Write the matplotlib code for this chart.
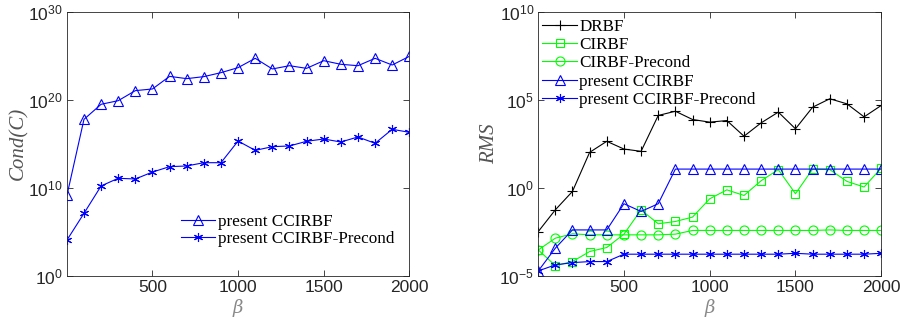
import matplotlib
matplotlib.use("Agg")
import matplotlib.pyplot as plt
import numpy as np
from matplotlib.ticker import FixedLocator, FuncFormatter, NullLocator

plt.rcParams["mathtext.fontset"] = "dejavuserif"

beta = [1, 100, 200, 300, 400, 500, 600, 700, 800, 900, 1000,
        1100, 1200, 1300, 1400, 1500, 1600, 1700, 1800, 1900, 2000]

# Left panel: condition number exponents (log10)
cond_ccirbf_exp = [9.19, 17.78, 19.49, 19.9, 21.04, 21.23, 22.66, 22.4, 22.63, 23.08, 23.65,
                   24.71, 23.5, 23.87, 23.57, 24.44, 24.03, 23.87, 24.71, 23.95, 24.93]
cond_precond_exp = [4.09, 7.11, 10.22, 11.09, 11.01, 11.8, 12.41, 12.49, 12.86, 12.86, 15.32,
                    14.26, 14.68, 14.76, 15.29, 15.55, 15.21, 15.78, 15.06, 16.65, 16.31]

# Right panel: RMS exponents (log10)
rms_drbf_exp = [-2.47, -1.24, -0.19, 2.03, 2.66, 2.22, 2.09, 4.13, 4.37, 3.9, 3.75,
                3.84, 2.95, 3.71, 4.32, 3.37, 4.6, 5.08, 4.79, 4.05, 4.7]
rms_cirbf_exp = [-3.52, -4.41, -4.18, -3.61, -3.38, -2.62, -1.24, -2.03, -1.9, -1.65, -0.61,
                 -0.1, -0.42, 0.42, 1.05, -0.32, 1.08, 1.05, 0.38, 0.06, 1.14]
rms_cirbf_pre_exp = [-3.52, -2.85, -2.6, -2.66, -2.66, -2.66, -2.66, -2.66, -2.62, -2.41, -2.41,
                     -2.41, -2.41, -2.41, -2.41, -2.41, -2.41, -2.38, -2.41, -2.41, -2.41]
rms_ccirbf_exp = [-4.71, -3.42, -2.38, -2.38, -2.38, -0.89, -1.33, -0.89, 1.08, 1.08, 1.08,
                  1.08, 1.08, 1.08, 1.08, 1.08, 1.08, 1.08, 1.08, 1.08, 1.08]
rms_ccirbf_pre_exp = [-4.71, -4.37, -4.24, -4.18, -4.18, -3.76, -3.76, -3.76, -3.76, -3.76, -3.76,
                      -3.76, -3.76, -3.76, -3.76, -3.71, -3.76, -3.76, -3.76, -3.76, -3.71]

xticks = [500, 1000, 1500, 2000]

TICK_FONT = "Liberation Sans"
SERIF = "Liberation Serif"
GRAY = "#262626"
LBL = "#555555"
ASTER = (6, 2, 0)

def tenpow(v, pos):
    return r"$\mathregular{10^{%d}}$" % int(round(np.log10(v)))

fig = plt.figure(figsize=(9.02, 3.25), dpi=100)
ax1 = fig.add_axes([0.0743, 0.1508, 0.3795, 0.8132])
ax2 = fig.add_axes([0.5968, 0.1508, 0.3802, 0.8115])

mk = dict(markersize=6.5, markerfacecolor="none", linewidth=0.8, markeredgewidth=0.8)
blue = "#0000ff"
green = "#00ff00"
leg_kw = dict(frameon=False, prop={"family": SERIF, "size": 12.3}, handlelength=2.0,
              handletextpad=0.15, borderaxespad=0.0, borderpad=0.0)

b = np.array(beta)
ax1.semilogy(b, 10.0 ** np.array(cond_ccirbf_exp), color=blue, marker="^", label="present CCIRBF", **mk)
ax1.semilogy(b, 10.0 ** np.array(cond_precond_exp), color=blue, marker=ASTER, label="present CCIRBF-Precond", **mk)
ax1.set_ylim(1e0, 1e30)
ax1.yaxis.set_major_locator(FixedLocator([1e0, 1e10, 1e20, 1e30]))
ax1.set_ylabel("Cond(C)", fontfamily=SERIF, fontstyle="italic", fontsize=15, color=LBL, labelpad=0)
ax1.legend(loc="lower right", bbox_to_anchor=(0.955, 0.11), labelspacing=0.08, **leg_kw)

ax2.semilogy(b, 10.0 ** np.array(rms_drbf_exp), color="black", marker="+", label="DRBF", **mk)
ax2.semilogy(b, 10.0 ** np.array(rms_cirbf_exp), color=green, marker="s", label="CIRBF",
             **{**mk, "markersize": 5.5})
ax2.semilogy(b, 10.0 ** np.array(rms_cirbf_pre_exp), color=green, marker="o", label="CIRBF-Precond", **mk)
ax2.semilogy(b, 10.0 ** np.array(rms_ccirbf_exp), color=blue, marker="^", label="present CCIRBF", **mk)
ax2.semilogy(b, 10.0 ** np.array(rms_ccirbf_pre_exp), color=blue, marker=ASTER, label="present CCIRBF-Precond", **mk)
ax2.set_ylim(1e-5, 1e10)
ax2.yaxis.set_major_locator(FixedLocator([1e-5, 1e0, 1e5, 1e10]))
ax2.set_ylabel("RMS", fontfamily=SERIF, fontstyle="italic", fontsize=15, color=LBL, labelpad=0)
ax2.legend(loc="upper left", bbox_to_anchor=(0.012, 0.975), labelspacing=0.13, **leg_kw)

for ax in (ax1, ax2):
    ax.set_xlim(1, 2000)
    ax.xaxis.set_major_locator(FixedLocator(xticks))
    ax.yaxis.set_minor_locator(NullLocator())
    ax.yaxis.set_major_formatter(FuncFormatter(tenpow))
    ax.tick_params(which="both", direction="in", top=True, right=True, length=4,
                   width=0.6, colors=GRAY, labelsize=12.5, pad=3)
    for lab in ax.get_xticklabels() + ax.get_yticklabels():
        lab.set_fontfamily(TICK_FONT)
    for s in ax.spines.values():
        s.set_linewidth(0.6)
        s.set_color(GRAY)
    ax.set_xlabel(r"$\beta$", fontsize=13, color="#888888", labelpad=1)

fig.savefig("out.png", dpi=100)
